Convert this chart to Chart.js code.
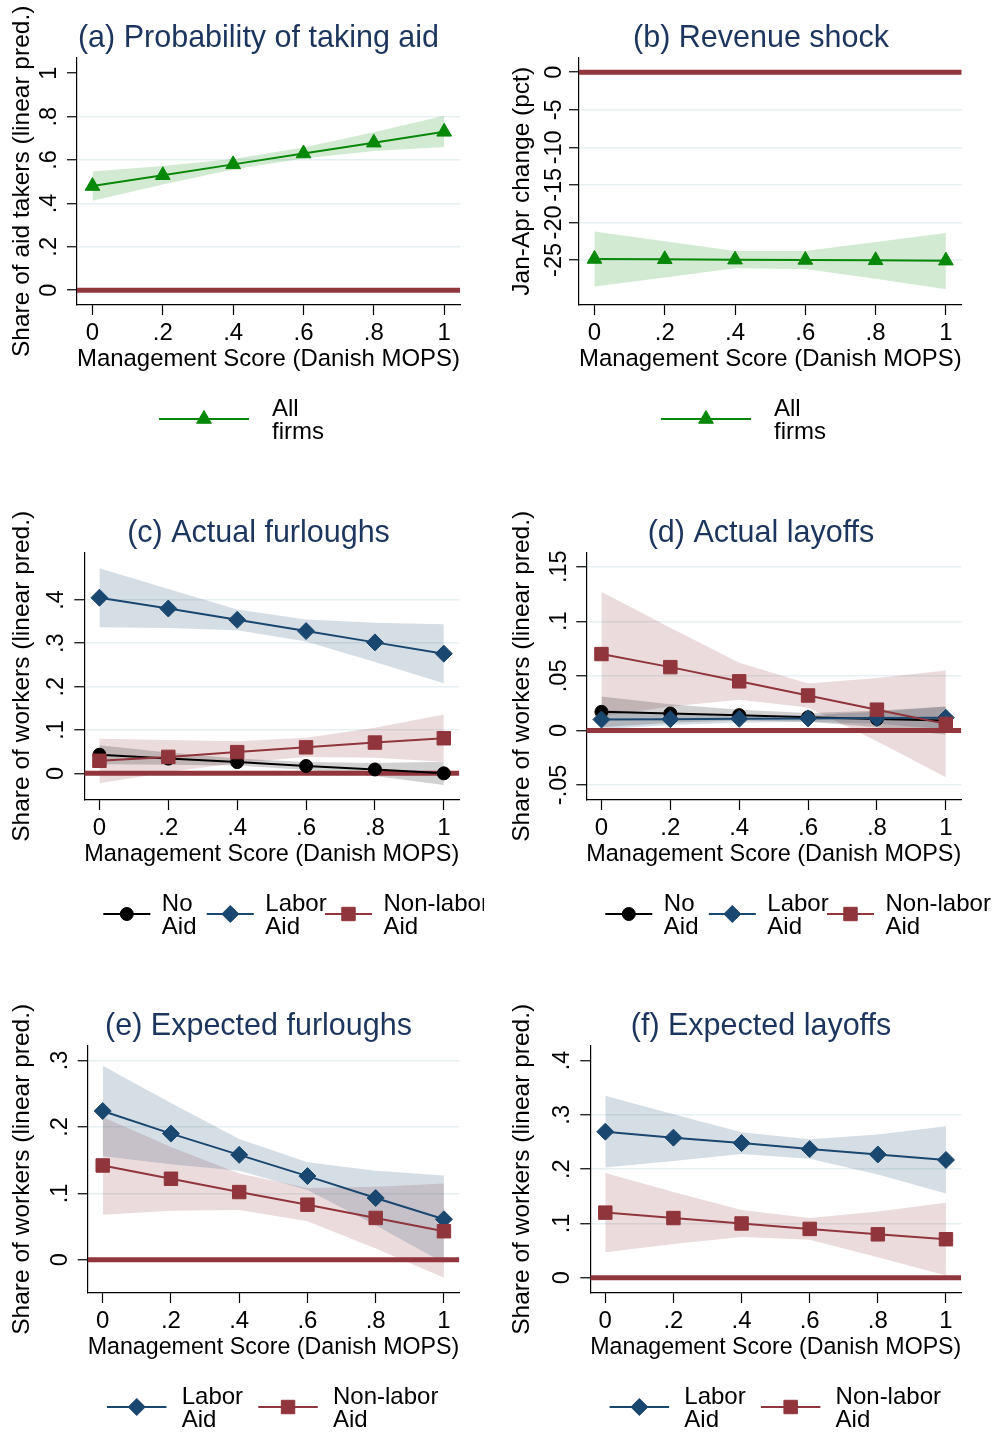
<!DOCTYPE html>
<html>
<head>
<meta charset="utf-8">
<script src="https://cdn.jsdelivr.net/npm/chart.js@4.4.1/dist/chart.umd.min.js"></script>
<style>
  html, body { margin: 0; padding: 0; background: #fff; overflow: hidden; width: 993px; height: 1433px; }
  canvas { position: absolute; }
</style>
</head>
<body>
<canvas id="pa" width="517" height="450" style="left:0;top:0"></canvas>
<canvas id="pb" width="522" height="450" style="left:500px;top:0"></canvas>
<canvas id="pc" width="517" height="450" style="left:0;top:495px"></canvas>
<canvas id="pd" width="522" height="450" style="left:500px;top:495px"></canvas>
<canvas id="pe" width="517" height="450" style="left:0;top:988px"></canvas>
<canvas id="pf" width="522" height="450" style="left:500px;top:988px"></canvas>
<script>
// x values (management score) and their tick labels
const scores = [0, 0.2, 0.4, 0.6, 0.8, 1];
const xTickLabels = ["0", ".2", ".4", ".6", ".8", "1"];
const xTitle = "Management Score (Danish MOPS)";

// (a) Probability of taking aid
const aidAll = [0.48, 0.53, 0.58, 0.63, 0.68, 0.73];
const aidAllLo = [0.412, 0.487, 0.556, 0.607, 0.642, 0.66];
const aidAllHi = [0.547, 0.573, 0.605, 0.658, 0.728, 0.804];
const aYTicks = [0, 0.2, 0.4, 0.6, 0.8, 1];
const aYLabels = ["0", ".2", ".4", ".6", ".8", "1"];

// (b) Revenue shock
const revAll = [-24.87, -24.91, -24.96, -25.0, -25.05, -25.09];
const revAllLo = [-28.55, -27.35, -26.1, -26.2, -27.5, -28.9];
const revAllHi = [-21.2, -22.5, -23.8, -23.8, -22.6, -21.4];
const bYTicks = [-25, -20, -15, -10, -5, 0];
const bYLabels = ["-25", "-20", "-15", "-10", "-5", "0"];

// (c) Actual furloughs
const furNoAid = [0.043, 0.034, 0.026, 0.017, 0.009, 0.0];
const furNoAidLo = [0.021, 0.020, 0.018, 0.008, -0.006, -0.027];
const furNoAidHi = [0.065, 0.048, 0.034, 0.026, 0.024, 0.027];
const furLabor = [0.405, 0.380, 0.354, 0.328, 0.302, 0.276];
const furLaborLo = [0.337, 0.335, 0.330, 0.304, 0.257, 0.208];
const furLaborHi = [0.473, 0.425, 0.378, 0.355, 0.347, 0.344];
const furNonLabor = [0.029, 0.038, 0.049, 0.060, 0.071, 0.081];
const furNonLaborLo = [-0.023, 0.003, 0.024, 0.038, 0.036, 0.027];
const furNonLaborHi = [0.080, 0.077, 0.074, 0.082, 0.105, 0.136];
const cYTicks = [0, 0.1, 0.2, 0.3, 0.4];
const cYLabels = ["0", ".1", ".2", ".3", ".4"];

// (d) Actual layoffs
const layNoAid = [0.017, 0.0155, 0.014, 0.012, 0.0105, 0.009];
const layNoAidLo = [0.003, 0.007, 0.009, 0.008, 0.003, -0.004];
const layNoAidHi = [0.031, 0.024, 0.019, 0.016, 0.018, 0.022];
const layLabor = [0.010, 0.0103, 0.0106, 0.011, 0.0113, 0.0116];
const layLaborLo = [0.001, 0.005, 0.007, 0.008, 0.006, 0.001];
const layLaborHi = [0.019, 0.016, 0.014, 0.014, 0.017, 0.022];
const layNonLabor = [0.070, 0.058, 0.045, 0.032, 0.019, 0.006];
const layNonLaborLo = [0.013, 0.022, 0.028, 0.021, -0.010, -0.043];
const layNonLaborHi = [0.127, 0.094, 0.062, 0.043, 0.048, 0.055];
const dYTicks = [-0.05, 0, 0.05, 0.1, 0.15];
const dYLabels = ["-.05", "0", ".05", ".1", ".15"];

// (e) Expected furloughs
const expFurLabor = [0.224, 0.190, 0.158, 0.126, 0.093, 0.061];
const expFurLaborLo = [0.156, 0.144, 0.134, 0.105, 0.052, -0.005];
const expFurLaborHi = [0.292, 0.236, 0.182, 0.147, 0.134, 0.127];
const expFurNonLabor = [0.142, 0.122, 0.102, 0.083, 0.063, 0.043];
const expFurNonLaborLo = [0.068, 0.074, 0.075, 0.058, 0.017, -0.027];
const expFurNonLaborHi = [0.215, 0.170, 0.130, 0.108, 0.110, 0.115];
const eYTicks = [0, 0.1, 0.2, 0.3];
const eYLabels = ["0", ".1", ".2", ".3"];

// (f) Expected layoffs
const expLayLabor = [0.269, 0.258, 0.248, 0.237, 0.227, 0.217];
const expLayLaborLo = [0.203, 0.215, 0.228, 0.219, 0.190, 0.155];
const expLayLaborHi = [0.335, 0.301, 0.268, 0.255, 0.264, 0.279];
const expLayNonLabor = [0.120, 0.110, 0.100, 0.090, 0.080, 0.071];
const expLayNonLaborLo = [0.047, 0.062, 0.075, 0.070, 0.038, 0.004];
const expLayNonLaborHi = [0.193, 0.158, 0.125, 0.110, 0.122, 0.138];
const fYTicks = [0, 0.1, 0.2, 0.3, 0.4];
const fYLabels = ["0", ".1", ".2", ".3", ".4"];

const xMin = -0.044, xMax = 1.045;

Chart.defaults.font.family = '"Liberation Sans", Arial, Helvetica, sans-serif';

const styles = {
  all:      { color: "#088808", rgb: "8,136,8",   pointStyle: "triangle", radius: 8.5 },
  noAid:    { color: "#000000", rgb: "0,0,0",     pointStyle: "circle",   radius: 6.5 },
  labor:    { color: "#1a476f", rgb: "26,71,111", pointStyle: "rectRot",  radius: 8.5 },
  nonLabor: { color: "#90353b", rgb: "144,53,59", pointStyle: "rect",     radius: 9.5 }
};

const pts = ys => scores.map((x, i) => ({ x: x, y: ys[i] }));

// legend below the plot: line + marker + two-line label
const stataLegend = {
  id: "stataLegend",
  afterDraw(chart, args, opts) {
    const { ctx, chartArea } = chart;
    const base = chartArea.bottom;
    ctx.save();
    if (opts.clipX) {
      ctx.beginPath();
      ctx.rect(0, 0, opts.clipX, chart.height);
      ctx.clip();
    }
    opts.items.forEach(it => {
      const ds = chart.data.datasets[it.dataset];
      const x0 = chartArea.left + it.start;
      const ly = base + 114;
      ctx.strokeStyle = ds.borderColor;
      ctx.lineWidth = ds.borderWidth;
      ctx.beginPath();
      ctx.moveTo(x0, ly);
      ctx.lineTo(x0 + it.len, ly);
      ctx.stroke();
      ctx.fillStyle = ds.pointBackgroundColor;
      ctx.strokeStyle = ds.pointBorderColor;
      ctx.lineWidth = ds.pointBorderWidth;
      Chart.helpers.drawPoint(ctx, {
        pointStyle: ds.pointStyle, radius: ds.pointRadius,
        borderWidth: ds.pointBorderWidth, rotation: 0
      }, x0 + it.len / 2, ly);
      ctx.fillStyle = "#000";
      ctx.font = '24px "Liberation Sans", Arial, sans-serif';
      ctx.textAlign = "left";
      ctx.textBaseline = "middle";
      ds.label.split(" ").forEach((line, k) => {
        ctx.fillText(line, x0 + it.textAt, base + 104 + k * 23);
      });
    });
    ctx.restore();
  }
};

function makePanel(id, p) {
  const datasets = [];
  // series lines first (drawn on top through "order")
  p.series.forEach((s, k) => {
    const st = styles[s.style];
    datasets.push({
      label: s.name,
      data: pts(s.values),
      borderColor: st.color,
      borderWidth: 2,
      pointStyle: st.pointStyle,
      pointRadius: st.radius,
      pointBackgroundColor: st.color,
      pointBorderColor: st.color,
      pointBorderWidth: 1,
      tension: 0,
      fill: false,
      order: p.series.length - k
    });
  });
  // zero reference line
  datasets.push({
    label: "zero",
    data: [{ x: xMin, y: 0 }, { x: xMax, y: 0 }],
    borderColor: "#92363d",
    borderWidth: 5,
    pointRadius: 0,
    fill: false,
    order: 10
  });
  // confidence bands
  p.series.forEach(s => {
    const st = styles[s.style];
    const loIndex = datasets.length;
    datasets.push({
      label: s.name + " lo",
      data: pts(s.lo),
      borderWidth: 0,
      pointRadius: 0,
      fill: false,
      order: 20
    });
    datasets.push({
      label: s.name + " hi",
      data: pts(s.hi),
      borderWidth: 0,
      pointRadius: 0,
      backgroundColor: "rgba(" + st.rgb + ",0.18)",
      fill: loIndex,
      order: 20
    });
  });

  new Chart(document.getElementById(id), {
    type: "line",
    data: { datasets: datasets },
    options: {
      responsive: false,
      animation: false,
      layout: { padding: { top: 20, left: 0, right: 0, bottom: 75 } },
      plugins: {
        legend: { display: false },
        tooltip: { enabled: false },
        title: {
          display: true,
          text: p.title,
          color: "#1c355e",
          font: { size: 30.5, weight: "normal" },
          padding: { top: 0, bottom: 1 }
        },
        stataLegend: { items: p.legend, clipX: p.clipX }
      },
      scales: {
        x: {
          type: "linear",
          min: xMin,
          max: xMax,
          afterBuildTicks: s => { s.ticks = scores.map(v => ({ value: v })); },
          afterFit: s => { s.height = 70; },
          ticks: {
            callback: (v, i) => xTickLabels[i],
            color: "#000",
            font: { size: 24 },
            padding: 4,
            maxRotation: 0,
            autoSkip: false
          },
          grid: { drawOnChartArea: false, tickLength: 10, tickColor: "#000", tickWidth: 1.2 },
          border: { color: "#000", width: 1.2 },
          title: { display: true, text: xTitle, color: "#000", font: { size: 24.5 }, padding: { top: 0, bottom: 1 } }
        },
        y: {
          type: "linear",
          min: p.yMin,
          max: p.yMax,
          afterBuildTicks: s => { s.ticks = p.yTicks.map(v => ({ value: v })); },
          afterFit: s => { s.width = p.yWidth; },
          ticks: {
            callback: (v, i) => p.yLabels[i],
            color: "#000",
            font: { size: 23.5 },
            minRotation: 90,
            maxRotation: 90,
            crossAlign: "center",
            padding: p.yPad,
            autoSkip: false
          },
          grid: {
            color: c => (c.tick && p.noGrid.includes(c.tick.value)) ? "rgba(0,0,0,0)" : "#e6eff2",
            lineWidth: 1.5,
            tickLength: 10,
            tickColor: "#000",
            tickWidth: 1.2
          },
          border: { color: "#000", width: 1.2 },
          title: { display: true, text: p.yTitle, color: "#000", font: { size: 24.5 }, padding: { top: 8, bottom: 0 } }
        },
        // empty right-hand strip, so the full-width title keeps its offset
        yr: {
          type: "linear",
          position: "right",
          display: true,
          afterFit: s => { s.width = p.rightW; },
          ticks: { display: false },
          grid: { display: false, drawTicks: false },
          border: { display: false }
        }
      }
    },
    plugins: [stataLegend]
  });
}

const oneItem = [{ dataset: 0, start: 82, len: 90, textAt: 113 }];
const threeItems = [
  { dataset: 0, start: 19, len: 47, textAt: 58.5 },
  { dataset: 1, start: 122.5, len: 47, textAt: 58.5 },
  { dataset: 2, start: 240.7, len: 47, textAt: 58.5 }
];
const twoItems = [
  { dataset: 0, start: 19.3, len: 59.5, textAt: 74.7 },
  { dataset: 1, start: 170.6, len: 59.5, textAt: 74.7 }
];

makePanel("pa", {
  title: "(a) Probability of taking aid",
  yTitle: "Share of aid takers (linear pred.)",
  series: [{ name: "All firms", style: "all", values: aidAll, lo: aidAllLo, hi: aidAllHi }],
  yMin: -0.068, yMax: 1.072, yTicks: aYTicks, yLabels: aYLabels, noGrid: [1],
  yWidth: 77, rightW: 57, yPad: 8, legend: oneItem
});

makePanel("pb", {
  title: "(b) Revenue shock",
  yTitle: "Jan-Apr change (pct)",
  series: [{ name: "All firms", style: "all", values: revAll, lo: revAllLo, hi: revAllHi }],
  yMin: -31.0, yMax: 1.95, yTicks: bYTicks, yLabels: bYLabels, noGrid: [],
  yWidth: 79, rightW: 60.3, yPad: -2.6, legend: oneItem
});

makePanel("pc", {
  title: "(c) Actual furloughs",
  yTitle: "Share of workers (linear pred.)",
  series: [
    { name: "No Aid", style: "noAid", values: furNoAid, lo: furNoAidLo, hi: furNoAidHi },
    { name: "Labor Aid", style: "labor", values: furLabor, lo: furLaborLo, hi: furLaborHi },
    { name: "Non-labor Aid", style: "nonLabor", values: furNonLabor, lo: furNonLaborLo, hi: furNonLaborHi }
  ],
  yMin: -0.0614, yMax: 0.509, yTicks: cYTicks, yLabels: cYLabels, noGrid: [],
  yWidth: 84.3, rightW: 57.7, yPad: 8, legend: threeItems, clipX: 484
});

makePanel("pd", {
  title: "(d) Actual layoffs",
  yTitle: "Share of workers (linear pred.)",
  series: [
    { name: "No Aid", style: "noAid", values: layNoAid, lo: layNoAidLo, hi: layNoAidHi },
    { name: "Labor Aid", style: "labor", values: layLabor, lo: layLaborLo, hi: layLaborHi },
    { name: "Non-labor Aid", style: "nonLabor", values: layNonLabor, lo: layNonLaborLo, hi: layNonLaborHi }
  ],
  yMin: -0.0638, yMax: 0.163, yTicks: dYTicks, yLabels: dYLabels, noGrid: [],
  yWidth: 86.3, rightW: 60.7, yPad: -3.1, legend: threeItems
});

makePanel("pe", {
  title: "(e) Expected furloughs",
  yTitle: "Share of workers (linear pred.)",
  series: [
    { name: "Labor Aid", style: "labor", values: expFurLabor, lo: expFurLaborLo, hi: expFurLaborHi },
    { name: "Non-labor Aid", style: "nonLabor", values: expFurNonLabor, lo: expFurNonLaborLo, hi: expFurNonLaborHi }
  ],
  yMin: -0.05, yMax: 0.3225, yTicks: eYTicks, yLabels: eYLabels, noGrid: [],
  yWidth: 87.7, rightW: 57.7, yPad: 7.7, legend: twoItems, clipX: 484
});

makePanel("pf", {
  title: "(f) Expected layoffs",
  yTitle: "Share of workers (linear pred.)",
  series: [
    { name: "Labor Aid", style: "labor", values: expLayLabor, lo: expLayLaborLo, hi: expLayLaborHi },
    { name: "Non-labor Aid", style: "nonLabor", values: expLayNonLabor, lo: expLayNonLaborLo, hi: expLayNonLaborHi }
  ],
  yMin: -0.028, yMax: 0.4275, yTicks: fYTicks, yLabels: fYLabels, noGrid: [0.4],
  yWidth: 90.3, rightW: 60.7, yPad: 7.6, legend: twoItems
});
</script>
</body>
</html>
